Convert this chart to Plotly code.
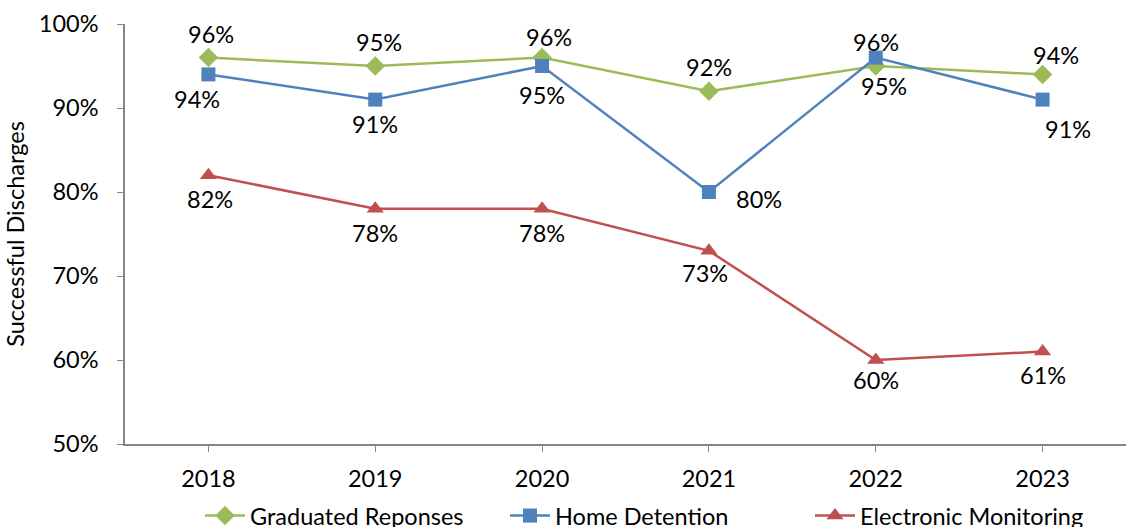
import plotly.graph_objects as go

years = ["2018", "2019", "2020", "2021", "2022", "2023"]
graduated = [96, 95, 96, 92, 95, 94]
home_detention = [94, 91, 95, 80, 96, 91]
electronic = [82, 78, 78, 73, 60, 61]
y_ticks = [50, 60, 70, 80, 90, 100]

# label offsets (px) relative to each point: (dx, dy) with dy positive = up
grad_off = [(3, 24), (4, 24), (7, 21), (0, 24), (8, -20), (13, 19)]
home_off = [(-11, -25), (0, -24), (0, -29), (50, -7), (0, 16), (25, -29)]
elec_off = [(2, -24), (0, -24), (0, -24), (-4, -22), (0, -20), (0, -23)]

FONT = "Lato, 'Liberation Sans', sans-serif"
FS = 23.5
GREEN = "#9BBB59"
BLUE = "#4F81BD"
RED = "#C0504D"

fig = go.Figure()
fig.add_trace(go.Scatter(x=years, y=graduated, mode="lines+markers", name="Graduated Reponses",
                         line=dict(color=GREEN, width=2.5),
                         marker=dict(symbol="diamond", size=15, color=GREEN)))
fig.add_trace(go.Scatter(x=years, y=home_detention, mode="lines+markers", name="Home Detention",
                         line=dict(color=BLUE, width=2.5),
                         marker=dict(symbol="square", size=14, color=BLUE)))
fig.add_trace(go.Scatter(x=years, y=electronic, mode="lines+markers", name="Electronic Monitoring",
                         line=dict(color=RED, width=2.5),
                         marker=dict(symbol="triangle-up", size=15, color=RED)))

annotations = []
for vals, offs in [(graduated, grad_off), (home_detention, home_off), (electronic, elec_off)]:
    for i, (v, (dx, dy)) in enumerate(zip(vals, offs)):
        annotations.append(dict(x=i, y=v, xref="x", yref="y", text=f"{v}%", showarrow=False,
                                xanchor="center", yanchor="middle", xshift=dx, yshift=dy,
                                font=dict(family=FONT, size=FS, color="#000000")))

fig.update_layout(
    width=1126, height=527,
    margin=dict(l=125, r=0, t=24, b=83, autoexpand=False),
    paper_bgcolor="white", plot_bgcolor="white",
    font=dict(family=FONT, size=FS, color="#000000"),
    showlegend=True,
    legend=dict(orientation="h", x=75 / 1001, xanchor="left", y=-0.171, yanchor="middle",
                font=dict(family=FONT, size=FS), itemwidth=40, tracegroupgap=0,
                entrywidth=250, entrywidthmode="pixels",
                bgcolor="rgba(0,0,0,0)"),
    annotations=annotations,
)
fig.update_xaxes(type="category", range=[-0.5, 5.5], showline=True, linecolor="#868686", linewidth=1.5,
                 ticks="outside", ticklen=6, tickcolor="#868686", tickwidth=1, showgrid=False,
                 zeroline=False, ticklabelstandoff=7, tickfont=dict(family=FONT, size=FS))
fig.update_yaxes(range=[50, 100], tickvals=y_ticks, ticktext=[f"{t}%" for t in y_ticks],
                 showline=True, linecolor="#868686", linewidth=1.5,
                 ticks="outside", ticklen=6, tickcolor="#868686", tickwidth=1, showgrid=False,
                 zeroline=False, ticklabelstandoff=14, tickfont=dict(family=FONT, size=FS),
                 title=dict(text="Successful Discharges", font=dict(family=FONT, size=FS), standoff=8))

fig.write_html("out.html", config={"displayModeBar": False},
               post_script="document.body.style.margin='0';document.body.style.overflow='hidden';")
